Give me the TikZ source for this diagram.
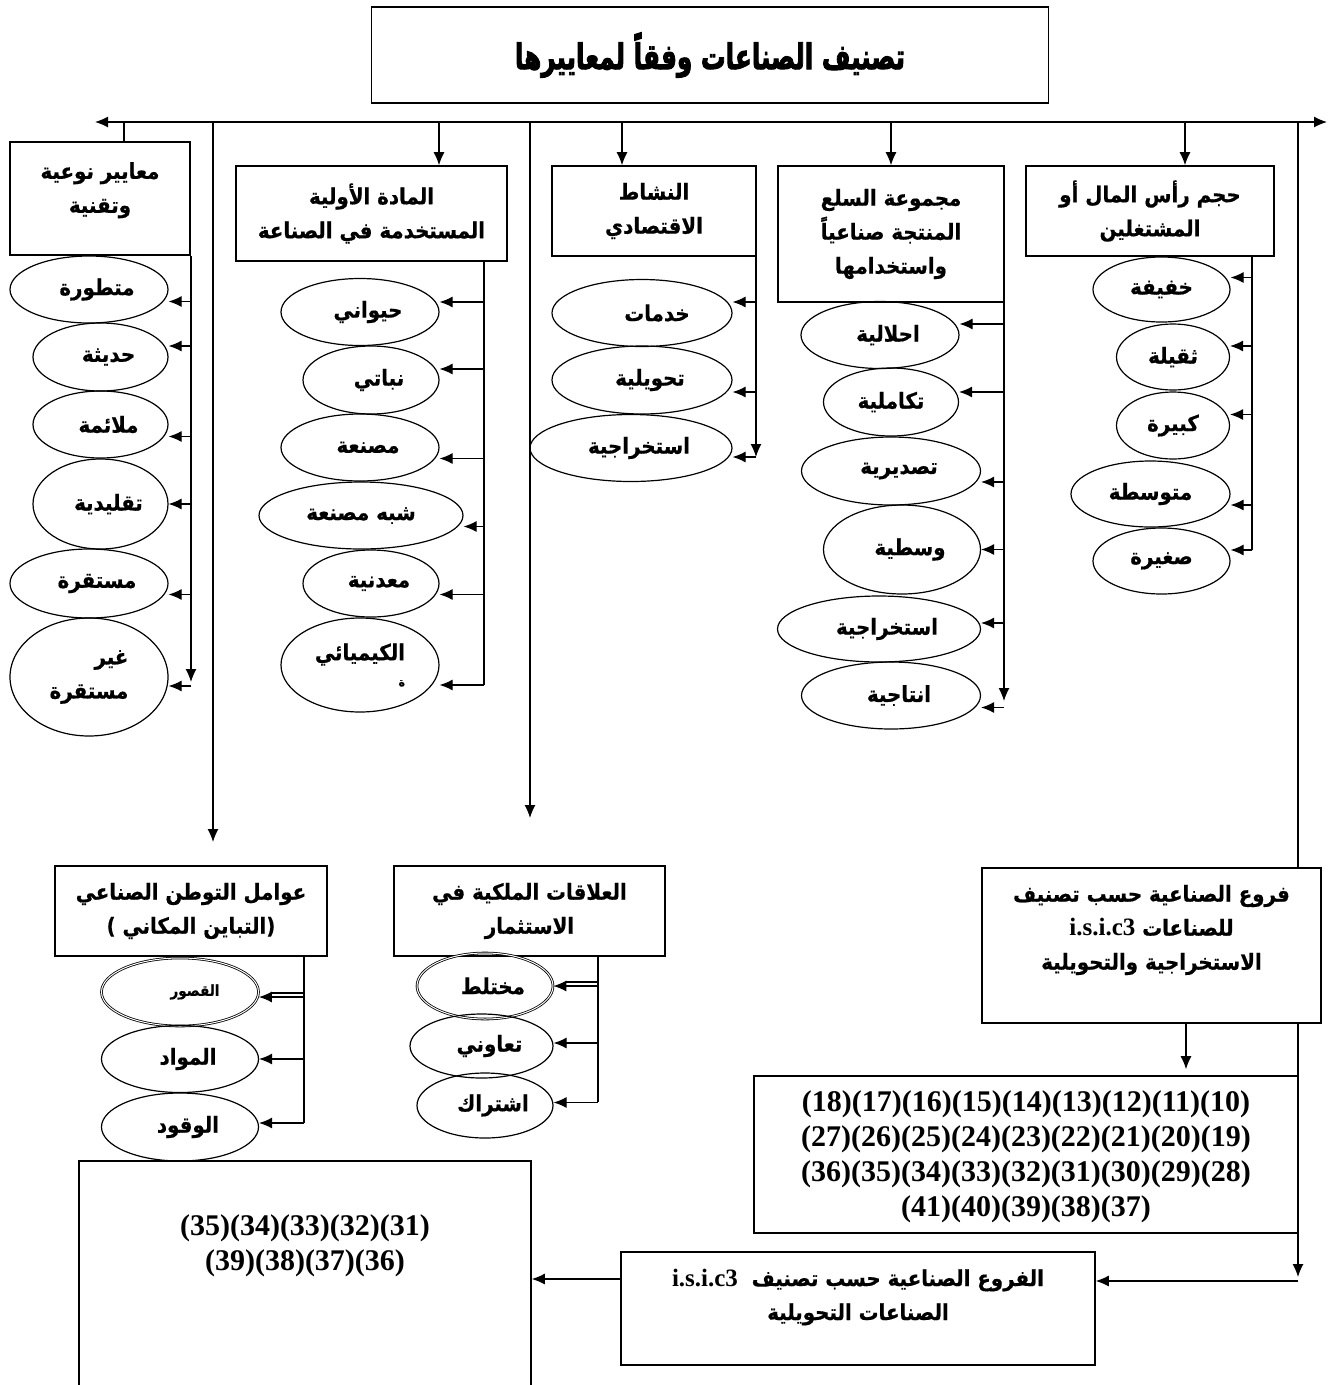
\documentclass[tikz,border=0pt]{standalone}
\usepackage{fontspec}
\usepackage{graphicx}
\setmainfont{Liberation Serif}
\newfontfamily\arabicfont[Script=Arabic,FakeStretch=0.9,BoldFeatures={FakeBold=0.6}]{DejaVu Sans}
\newfontfamily\heavyfont[Script=Arabic,UprightFont={* Bold},UprightFeatures={FakeBold=3}]{DejaVu Sans}
\usetikzlibrary{arrows.meta}
\usetikzlibrary{shapes.geometric}
\TeXXeTstate=1
\newcommand{\artxt}[1]{\beginR#1\endR}
\newcommand{\lat}[1]{\beginL{\rmfamily\fontsize{25}{34}\selectfont #1}\endL}
\newcommand{\arfont}{\arabicfont\bfseries\fontsize{22}{34}\selectfont}
\tikzset{
  box/.style={draw, line width=1.6pt, fill=white, inner sep=0pt, align=center, font=\arfont},
  txt/.style={inner sep=0pt, align=center, font=\arfont},
  ell/.style={ellipse, draw, line width=1.2pt, inner sep=0pt, align=center, font=\arfont},
  ellr/.style={ell, execute at begin node={\hspace*{16pt}}},
  dbl/.style={double, line width=0.8pt, double distance=1pt},
  nums/.style={inner sep=0pt, align=center, font=\bfseries\fontsize{30}{35}\selectfont},
}

\begin{document}
\begin{tikzpicture}[x=1pt,y=-1pt,>={Latex[length=13pt,width=11pt]},line width=1.2pt]
  \useasboundingbox (0,0) rectangle (1330,1385);
  \fill[white] (0,0) rectangle (1330,1385);
  \clip (0,0) rectangle (1330,1385);

  % title and main bar
  \node[box,minimum width=677,minimum height=96,font=\heavyfont\fontsize{26}{34}\selectfont] (title) at (710,55) {\scalebox{0.95}[1.35]{\artxt{تصنيف الصناعات وفقاً لمعاييرها}}};
  \coordinate (barL) at (95,122);
  \coordinate (barR) at (1327,122);
  \draw[<->] (barL) -- (barR);

  % criteria boxes
  \node[box,minimum width=180,minimum height=113] (tech) at (100,198.5) {\artxt{معايير نوعية}\\\artxt{وتقنية}\\[-12pt]};
  \node[box,minimum width=271,minimum height=95] (mat) at (371.5,213.5) {\artxt{المادة الأولية}\\\artxt{المستخدمة في الصناعة}};
  \node[box,minimum width=204,minimum height=90] (nash) at (654,211) {\artxt{النشاط}\\\artxt{الاقتصادي}};
  \node[box,minimum width=226,minimum height=136] (maj) at (891,234) {\artxt{مجموعة السلع}\\\artxt{المنتجة صناعياً}\\\artxt{واستخدامها}};
  \node[box,minimum width=248,minimum height=90] (hajm) at (1150,211) {\artxt{حجم رأس المال أو}\\\artxt{المشتغلين}};

  \draw ([xshift=24pt]tech.north |- barL) -- ([xshift=24pt]tech.north);
  \draw[->] ([xshift=67.5pt]mat.north |- barL) -- ([xshift=67.5pt]mat.north);
  \draw[->] ([xshift=-32pt]nash.north |- barL) -- ([xshift=-32pt]nash.north);
  \draw[->] (maj.north |- barL) -- (maj.north);
  \draw[->] ([xshift=35pt]hajm.north |- barL) -- ([xshift=35pt]hajm.north);

  % technical criteria
  \node[ellr,minimum width=158,minimum height=67] (mutaw) at (89,289.5) {\artxt{متطورة}};
  \node[ellr,minimum width=135,minimum height=68] (hadi) at (100.5,357) {\artxt{حديثة}};
  \node[ellr,minimum width=135,minimum height=67] (mulai) at (100.5,424.5) {\artxt{ملائمة}};
  \node[ellr,minimum width=135,minimum height=90] (taql) at (100.5,504) {\artxt{تقليدية}};
  \node[ellr,minimum width=158,minimum height=69] (mustq) at (89,583.5) {\artxt{مستقرة}};
  \node[ell,minimum width=158,minimum height=118,align=right] (ghayr) at (89,677) {\artxt{غير}\\\artxt{مستقرة}};

  \coordinate (techEnd) at (191,682);
  \draw[->] (tech.south -| techEnd) -- (techEnd);
  \draw[->] ([yshift=-12pt]mutaw.east -| techEnd) -- ([yshift=-12pt]mutaw.east);
  \draw[->] ([yshift=11pt]hadi.east -| techEnd) -- ([yshift=11pt]hadi.east);
  \draw[->] ([yshift=-12pt]mulai.east -| techEnd) -- ([yshift=-12pt]mulai.east);
  \draw[->] (taql.east -| techEnd) -- (taql.east);
  \draw[->] ([yshift=-11pt]mustq.east -| techEnd) -- ([yshift=-11pt]mustq.east);
  \draw[->] ([yshift=-9pt]ghayr.east -| techEnd) -- ([yshift=-9pt]ghayr.east);

  % raw material
  \node[ellr,minimum width=158,minimum height=67] (haya) at (360,312) {\artxt{حيواني}};
  \node[ellr,minimum width=136,minimum height=68] (naba) at (371,380) {\artxt{نباتي}};
  \node[ellr,minimum width=158,minimum height=67] (masn) at (360,447.5) {\artxt{مصنعة}};
  \node[ell,minimum width=204,minimum height=67] (shib) at (361,515.5) {\artxt{شبه مصنعة}};
  \node[ellr,minimum width=136,minimum height=67] (maad) at (371,583.5) {\artxt{معدنية}};
  \node[ell,minimum width=158,minimum height=94,align=right] (kimi) at (360,665) {\artxt{الكيميائي}\\[-8pt]{\fontsize{12}{12}\selectfont\artxt{ة}}};

  \coordinate (matEnd) at (484,685);
  \draw (mat.south -| matEnd) -- (matEnd);
  \draw[->] ([yshift=10pt]haya.east -| matEnd) -- ([yshift=10pt]haya.east);
  \draw[->] ([yshift=11pt]naba.east -| matEnd) -- ([yshift=11pt]naba.east);
  \draw[->] ([yshift=-11pt]masn.east -| matEnd) -- ([yshift=-11pt]masn.east);
  \draw[->] ([yshift=-11pt]shib.east -| matEnd) -- ([yshift=-11pt]shib.east);
  \draw[->] ([yshift=-11pt]maad.east -| matEnd) -- ([yshift=-11pt]maad.east);
  \draw[->] ([yshift=-20pt]kimi.east -| matEnd) -- ([yshift=-20pt]kimi.east);

  % economic activity
  \node[ellr,minimum width=180,minimum height=67] (khad) at (642,313) {\hspace*{14pt}\artxt{خدمات}};
  \node[ellr,minimum width=180,minimum height=68] (tahw) at (642,380) {\artxt{تحويلية}};
  \node[ellr,minimum width=202,minimum height=67] (istk) at (631,448) {\artxt{استخراجية}};

  \coordinate (nashEnd) at (756,457);
  \draw[->] (nash.south -| nashEnd) -- (nashEnd);
  \draw[->] ([yshift=11pt]khad.east -| nashEnd) -- ([yshift=11pt]khad.east);
  \draw[->] ([yshift=-12pt]tahw.east -| nashEnd) -- ([yshift=-12pt]tahw.east);
  \draw[->] ([yshift=-9pt]istk.east -| nashEnd) -- ([yshift=-9pt]istk.east);

  % goods groups
  \node[ellr,minimum width=158,minimum height=67] (ihlal) at (880,335) {\artxt{احلالية}};
  \node[ell,minimum width=135,minimum height=68] (takam) at (891,402) {\artxt{تكاملية}};
  \node[ellr,minimum width=179,minimum height=68] (tasd) at (891,471) {\artxt{تصديرية}};
  \node[ellr,minimum width=157,minimum height=89] (wasat) at (902,549.5) {\artxt{وسطية}};
  \node[ellr,minimum width=203,minimum height=66] (istkb) at (879,629) {\artxt{استخراجية}};
  \node[ellr,minimum width=179,minimum height=67] (intaj) at (891,695.5) {\artxt{انتاجية}};

  \coordinate (majEnd) at (1004,701);
  \draw[->] (maj.south -| majEnd) -- (majEnd);
  \draw[->] ([yshift=11pt]ihlal.east -| majEnd) -- ([yshift=11pt]ihlal.east);
  \draw[->] ([yshift=10pt]takam.east -| majEnd) -- ([yshift=10pt]takam.east);
  \draw[->] ([yshift=-11pt]tasd.east -| majEnd) -- ([yshift=-11pt]tasd.east);
  \draw[->] (wasat.east -| majEnd) -- (wasat.east);
  \draw[->] ([yshift=6pt]istkb.east -| majEnd) -- ([yshift=6pt]istkb.east);
  \draw[->] ([yshift=-12pt]intaj.east -| majEnd) -- ([yshift=-12pt]intaj.east);

  % capital size
  \node[ell,minimum width=137,minimum height=65] (khaf) at (1161.5,289.5) {\artxt{خفيفة}};
  \node[ell,minimum width=113,minimum height=66] (thaq) at (1173,357) {\artxt{ثقيلة}};
  \node[ell,minimum width=113,minimum height=67] (kabi) at (1173,425.5) {\artxt{كبيرة}};
  \node[ell,minimum width=159,minimum height=66] (muto) at (1150.5,494) {\artxt{متوسطة}};
  \node[ell,minimum width=137,minimum height=66] (sagh) at (1161.5,561) {\artxt{صغيرة}};

  \coordinate (hajmEnd) at (1252,549.5);
  \draw (hajm.south -| hajmEnd) -- (hajmEnd);
  \draw[->] ([yshift=12pt]khaf.east -| hajmEnd) -- ([yshift=12pt]khaf.east);
  \draw[->] ([yshift=11pt]thaq.east -| hajmEnd) -- ([yshift=11pt]thaq.east);
  \draw[->] ([yshift=11pt]kabi.east -| hajmEnd) -- ([yshift=11pt]kabi.east);
  \draw[->] ([yshift=-11pt]muto.east -| hajmEnd) -- ([yshift=-11pt]muto.east);
  \draw[->] ([yshift=11pt]sagh.east -| hajmEnd) -- ([yshift=11pt]sagh.east);

  % location factors
  \coordinate (tawIn) at (213,842);
  \draw[->] (barL -| tawIn) -- (tawIn);
  \node[box,minimum width=272,minimum height=90] (taw) at (191,911) {\artxt{عوامل التوطن الصناعي}\\\artxt{(التباين المكاني )}};
  \node[ell,dbl,minimum width=157,minimum height=68] (qusur) at (180,992) {\hspace*{30pt}{\fontsize{15}{15}\selectfont\artxt{القصور}}};
  \node[ellr,minimum width=157,minimum height=67] (mawad) at (180,1059) {\artxt{المواد}};
  \node[ellr,minimum width=157,minimum height=68] (waqud) at (180,1127) {\artxt{الوقود}};

  \coordinate (tawEnd) at (304,1123);
  \draw (taw.south -| tawEnd) -- (tawEnd);
  \draw[->] ([yshift=-5pt]qusur.east -| tawEnd) -- ([yshift=-5pt]qusur.east);
  \draw ([yshift=-1pt]qusur.east -| tawEnd) -- ([xshift=13pt,yshift=-1pt]qusur.east);
  \draw[->] (mawad.east -| tawEnd) -- (mawad.east);
  \draw[->] ([yshift=4pt]waqud.east -| tawEnd) -- ([yshift=4pt]waqud.east);

  % ownership
  \coordinate (alaqIn) at (530,818);
  \draw[->] (barL -| alaqIn) -- (alaqIn);
  \node[box,minimum width=271,minimum height=90] (alaq) at (529.5,911) {\artxt{العلاقات الملكية في}\\\artxt{الاستثمار}};
  \node[ellr,dbl,minimum width=136,minimum height=66] (mukh) at (485,986) {\artxt{مختلط}};
  \node[ellr,minimum width=143,minimum height=64] (taaw) at (481.5,1046) {\artxt{تعاوني}};
  \node[ellr,minimum width=136,minimum height=65] (isht) at (485,1105.5) {\artxt{اشتراك}};

  \coordinate (alaqEnd) at (598,1102);
  \draw (alaq.south -| alaqEnd) -- (alaqEnd);
  \draw[->] (mukh.east -| alaqEnd) -- (mukh.east);
  \draw ([yshift=4pt]mukh.east -| alaqEnd) -- ([xshift=13pt,yshift=4pt]mukh.east);
  \draw[->] ([yshift=3pt]taaw.east -| alaqEnd) -- ([yshift=3pt]taaw.east);
  \draw[->] ([yshift=3pt]isht.east -| alaqEnd) -- ([yshift=3pt]isht.east);

  % isic branches
  \node[box,minimum width=339,minimum height=155] (furu) at (1151.5,945.5) {};
  \node[txt] (furuTxt) at (1151.5,930) {\artxt{فروع الصناعية حسب تصنيف}\\\artxt{للصناعات \lat{i.s.i.c3}}\\\artxt{الاستخراجية والتحويلية}};
  \node[box,minimum width=544,minimum height=157] (nums) at (1026,1154.5) {};
  \node[nums] (numsTxt) at (1026,1157) {(18)(17)(16)(15)(14)(13)(12)(11)(10)\\(27)(26)(25)(24)(23)(22)(21)(20)(19)\\(36)(35)(34)(33)(32)(31)(30)(29)(28)\\(41)(40)(39)(38)(37)};
  \node[box,minimum width=474,minimum height=113] (furub) at (858,1308.5) {};
  \node[txt] (furubTxt) at (858,1297) {\artxt{الفروع الصناعية حسب تصنيف\ \ \lat{i.s.i.c3}}\\\artxt{الصناعات التحويلية}};
  \node[box,minimum width=452,minimum height=240] (big) at (305,1281) {};
  \node[nums] (bigTxt) at (305,1246) {(35)(34)(33)(32)(31)\\(39)(38)(37)(36)};

  \coordinate (furuIn) at (1298,1277);
  \draw (barL -| furuIn) -- (furu.north -| furuIn);
  \draw[->] (furu.south -| furuIn) -- (furuIn);
  \draw[->] ([yshift=27.5pt]furub.east -| furuIn) -- ([yshift=27.5pt]furub.east);
  \draw[->] ([xshift=34.5pt]furu.south) -- ([xshift=34.5pt,yshift=6pt]furu.south |- nums.north);
  \draw[->] ([yshift=29.5pt]furub.west) -- ([yshift=29.5pt]furub.west -| big.east);
\end{tikzpicture}
\end{document}
